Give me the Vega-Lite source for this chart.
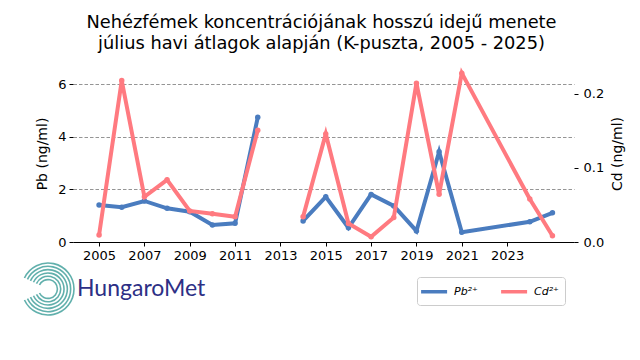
{
  "$schema": "https://vega.github.io/schema/vega-lite/v6.json",
  "width": 501,
  "height": 177,
  "autosize": {"type": "none"},
  "padding": {"left": 73, "top": 65, "right": 66, "bottom": 118},
  "background": "white",
  "title": {
    "text": ["Nehézfémek koncentrációjának hosszú idejű menete", "július havi átlagok alapján (K-puszta, 2005 - 2025)"],
    "font": "DejaVu Sans",
    "fontSize": 17.8,
    "fontWeight": "normal",
    "color": "black",
    "anchor": "middle",
    "frame": "group",
    "baseline": "top",
    "lineHeight": 21,
    "dx": -2,
    "offset": 12
  },
  "data": {
    "values": [
      {"year": 2005, "Pb": 1.41, "Cd": 0.0095},
      {"year": 2006, "Pb": 1.32, "Cd": 0.218},
      {"year": 2007, "Pb": 1.56, "Cd": 0.061},
      {"year": 2008, "Pb": 1.28, "Cd": 0.084},
      {"year": 2009, "Pb": 1.15, "Cd": 0.042},
      {"year": 2010, "Pb": 0.65, "Cd": 0.038},
      {"year": 2011, "Pb": 0.71, "Cd": 0.034},
      {"year": 2012, "Pb": 4.74, "Cd": 0.151},
      {"year": 2013, "Pb": null, "Cd": null},
      {"year": 2014, "Pb": 0.80, "Cd": 0.034},
      {"year": 2015, "Pb": 1.72, "Cd": 0.146},
      {"year": 2016, "Pb": 0.54, "Cd": 0.025},
      {"year": 2017, "Pb": 1.81, "Cd": 0.007},
      {"year": 2018, "Pb": 1.37, "Cd": 0.033},
      {"year": 2019, "Pb": 0.42, "Cd": 0.2145},
      {"year": 2020, "Pb": 3.43, "Cd": 0.0645},
      {"year": 2021, "Pb": 0.37, "Cd": 0.228},
      {"year": 2024, "Pb": 0.77, "Cd": 0.058},
      {"year": 2025, "Pb": 1.11, "Cd": 0.0085}
    ]
  },
  "layer": [
    {
      "mark": {"type": "line", "strokeWidth": 4, "invalid": "break-paths-filter-domains", "point": {"filled": true, "size": 30}},
      "encoding": {
        "x": {
          "field": "year", "type": "quantitative",
          "scale": {"domain": [2003.85, 2025.95], "nice": false, "zero": false},
          "axis": {"values": [2005, 2007, 2009, 2011, 2013, 2015, 2017, 2019, 2021, 2023], "format": "d", "title": null, "grid": false}
        },
        "y": {
          "field": "Pb", "type": "quantitative",
          "scale": {"domain": [0, 6.73], "nice": false, "zero": true},
          "axis": {"orient": "left", "values": [0, 2, 4, 6], "title": "Pb (ng/ml)", "grid": true, "domain": false,
                   "titleX": -31, "titleY": 88.5, "titleAngle": 270, "titleAlign": "center", "titleBaseline": "middle"}
        },
        "color": {
          "datum": "Pb²⁺",
          "scale": {"domain": ["Pb²⁺", "Cd²⁺"], "range": ["#4a7cbf", "#ff7a80"]},
          "legend": {
            "orient": "none", "legendX": 344, "legendY": 212, "direction": "horizontal",
            "title": null, "fillColor": "white", "strokeColor": "#cccccc", "cornerRadius": 3, "padding": 6,
            "symbolType": "M-1.6,0L2.4,0", "symbolSize": 169, "symbolStrokeWidth": 3.5,
            "labelFontSize": 11, "labelFontStyle": "italic", "labelFont": "DejaVu Sans", "labelColor": "black",
            "labelOffset": 14, "columnPadding": 16
          }
        }
      }
    },
    {
      "mark": {"type": "line", "strokeWidth": 4, "invalid": "break-paths-filter-domains", "point": {"filled": true, "size": 30}},
      "encoding": {
        "x": {"field": "year", "type": "quantitative"},
        "y": {
          "field": "Cd", "type": "quantitative",
          "scale": {"domain": [0, 0.239], "nice": false, "zero": true},
          "axis": {"orient": "right", "values": [0, 0.1, 0.2], "format": ".1f", "title": "Cd (ng/ml)", "grid": false, "domain": false,
                   "labelPadding": 5,
                   "titleX": 43, "titleY": 88.5, "titleAngle": 270, "titleAlign": "center", "titleBaseline": "middle"}
        },
        "color": {"datum": "Cd²⁺"}
      }
    },
    {
      "transform": [{"filter": "false"}],
      "mark": {"type": "point"},
      "encoding": {
        "shape": {
          "datum": "HungaroMet",
          "scale": {"range": ["M-0.906,0.423A1,1,0,1,0,-0.906,-0.423M-0.79,0.369A0.872,0.872,0,1,0,-0.79,-0.369M-0.675,0.315A0.745,0.745,0,1,0,-0.675,-0.315M-0.559,0.261A0.617,0.617,0,1,0,-0.559,-0.261M-0.444,0.207A0.49,0.49,0,1,0,-0.444,-0.207M-0.328,0.153A0.362,0.362,0,1,0,-0.328,-0.153"]},
          "legend": {
            "orient": "none", "legendX": -52, "legendY": 197, "title": null, "padding": 0,
            "symbolSize": 2700, "symbolFillColor": "transparent", "symbolStrokeColor": "#1f8f8a", "symbolStrokeWidth": 1.6,
            "labelFont": "Lato", "labelFontSize": 23, "labelColor": "#2d2f85", "labelOffset": 2
          }
        }
      }
    }
  ],
  "resolve": {"scale": {"y": "independent"}},
  "config": {
    "font": "DejaVu Sans",
    "view": {"stroke": null},
    "axis": {
      "labelFont": "DejaVu Sans", "labelFontSize": 13, "labelColor": "black", "labelPadding": 3,
      "titleFont": "DejaVu Sans", "titleFontSize": 14, "titleFontWeight": "normal", "titleColor": "black",
      "tickColor": "black", "tickSize": 4, "tickWidth": 1, "domainColor": "black", "domainWidth": 1,
      "gridColor": "#7a7a7a", "gridDash": [3.5, 2], "gridWidth": 0.8
    },
    "axisX": {"labelAngle": 0, "labelFlush": false}
  }
}
